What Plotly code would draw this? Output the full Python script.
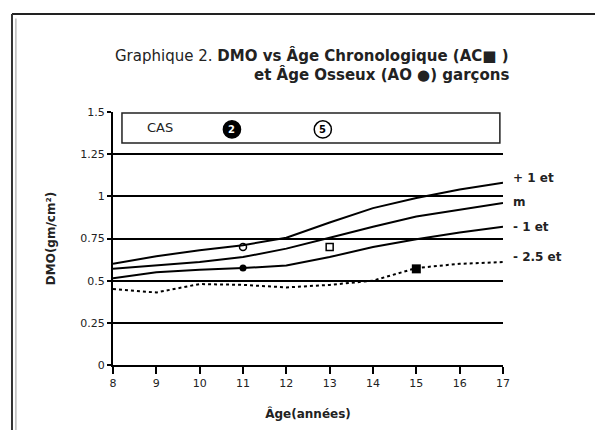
import plotly.graph_objects as go

ages = [8, 9, 10, 11, 12, 13, 14, 15, 16, 17]
plus1 = [0.60, 0.645, 0.68, 0.71, 0.755, 0.845, 0.93, 0.99, 1.04, 1.08]
mean = [0.57, 0.59, 0.61, 0.64, 0.69, 0.755, 0.82, 0.88, 0.92, 0.96]
minus1 = [0.515, 0.55, 0.565, 0.575, 0.59, 0.64, 0.70, 0.745, 0.785, 0.82]
minus25 = [0.45, 0.43, 0.48, 0.475, 0.46, 0.475, 0.50, 0.575, 0.60, 0.61]

cas2_ac = (15, 0.57)   # filled square (chronological age)
cas2_ao = (11, 0.575)  # filled circle (bone age)
cas5_ac = (13, 0.70)   # open square
cas5_ao = (11, 0.70)   # open circle

y_ticks = [0, 0.25, 0.5, 0.75, 1, 1.25, 1.5]
y_labels = ["0", "0.25", "0.5", "0.75", "1", "1.25", "1.5"]
curve_labels = ["+ 1 et", "m", "- 1 et", "- 2.5 et"]

FONT = "DejaVu Sans"
fig = go.Figure()
for ys in (plus1, mean, minus1):
    fig.add_trace(go.Scatter(x=ages, y=ys, mode="lines",
                             line=dict(color="black", width=2), showlegend=False))
fig.add_trace(go.Scatter(x=ages, y=minus25, mode="lines",
                         line=dict(color="black", width=2, dash="dot"), showlegend=False))

fig.add_trace(go.Scatter(x=[cas2_ao[0]], y=[cas2_ao[1]], mode="markers",
                         marker=dict(symbol="circle", size=7, color="black"), showlegend=False))
fig.add_trace(go.Scatter(x=[cas2_ac[0]], y=[cas2_ac[1]], mode="markers",
                         marker=dict(symbol="square", size=9, color="black"), showlegend=False))
fig.add_trace(go.Scatter(x=[cas5_ao[0]], y=[cas5_ao[1]], mode="markers",
                         marker=dict(symbol="circle-open", size=7, color="black", line=dict(width=1.5)), showlegend=False))
fig.add_trace(go.Scatter(x=[cas5_ac[0]], y=[cas5_ac[1]], mode="markers",
                         marker=dict(symbol="square-open", size=7, color="black", line=dict(width=1.5)), showlegend=False))

shapes = [
    # outer frame
    dict(type="line", xref="paper", yref="paper", x0=-0.259, x1=1.3, y0=1.387, y1=1.387,
         line=dict(color="#222", width=2)),
    dict(type="line", xref="paper", yref="paper", x0=-0.259, x1=-0.259, y0=1.387, y1=-0.3,
         line=dict(color="#333", width=2)),
    dict(type="line", xref="paper", yref="paper", x0=-0.249, x1=-0.249, y0=1.37, y1=-0.3,
         line=dict(color="#bbb", width=1.5)),
    # CAS box
    dict(type="rect", xref="paper", yref="paper", x0=0.023, x1=0.992, y0=0.877, y1=0.996,
         line=dict(color="#222", width=1.5), fillcolor="white", layer="above"),
    # case circles
    dict(type="circle", xref="paper", yref="paper", x0=0.283, x1=0.327, y0=0.897, y1=0.965,
         line=dict(color="black", width=1.5), fillcolor="black", layer="above"),
    dict(type="circle", xref="paper", yref="paper", x0=0.516, x1=0.56, y0=0.897, y1=0.965,
         line=dict(color="black", width=1.5), fillcolor="white", layer="above"),
]

annotations = [
    dict(text="CAS", xref="paper", yref="paper", x=0.12, y=0.94, xanchor="center", yanchor="middle",
         showarrow=False, font=dict(family=FONT, size=13, color="#222")),
    dict(text="<b>2</b>", xref="paper", yref="paper", x=0.305, y=0.931, xanchor="center", yanchor="middle",
         showarrow=False, font=dict(family=FONT, size=10, color="white")),
    dict(text="<b>5</b>", xref="paper", yref="paper", x=0.538, y=0.931, xanchor="center", yanchor="middle",
         showarrow=False, font=dict(family=FONT, size=10, color="black")),
    dict(text="Graphique 2. <b>DMO vs Âge Chronologique (AC■ )</b>", xref="paper", yref="paper",
         x=1.02, y=1.225, xanchor="right", yanchor="middle", showarrow=False,
         font=dict(family=FONT, size=15, color="#222")),
    dict(text="<b>et Âge Osseux (AO ●) garçons</b>", xref="paper", yref="paper",
         x=1.02, y=1.15, xanchor="right", yanchor="middle", showarrow=False,
         font=dict(family=FONT, size=15, color="#222")),
]
label_y = [178, 202, 227, 257]
for lab, py in zip(curve_labels, label_y):
    annotations.append(dict(text="<b>" + lab + "</b>", xref="paper", yref="paper",
                            x=1.02, y=(365 - py) / 253, xanchor="left", yanchor="middle",
                            showarrow=False, font=dict(family=FONT, size=12, color="#222")))

fig.update_layout(
    width=603, height=430,
    margin=dict(l=105, r=108, t=104, b=73),
    paper_bgcolor="white", plot_bgcolor="white",
    shapes=shapes, annotations=annotations,
    font=dict(family=FONT, color="#222"),
    xaxis=dict(range=[8, 17], tickvals=ages, ticktext=[str(a) for a in ages],
               showgrid=False, zeroline=False, showline=True, linecolor="black", linewidth=2,
               ticks="outside", ticklen=7, tickcolor="black", tickwidth=1.5,
               tickfont=dict(family=FONT, size=11, color="#222"),
               title=dict(text="<b>Âge(années)</b>", font=dict(family=FONT, size=12, color="#222"), standoff=20)),
    yaxis=dict(range=[0, 1.5], tickvals=y_ticks, ticktext=y_labels,
               showgrid=True, gridcolor="black", gridwidth=2, zeroline=False,
               showline=True, linecolor="black", linewidth=2,
               ticks="outside", ticklen=4, tickcolor="black", tickwidth=1.5,
               tickfont=dict(family=FONT, size=11, color="#222"),
               title=dict(text="<b>DMO(gm/cm²)</b>", font=dict(family=FONT, size=12, color="#222"), standoff=22)),
)

fig.write_html("out.html")
